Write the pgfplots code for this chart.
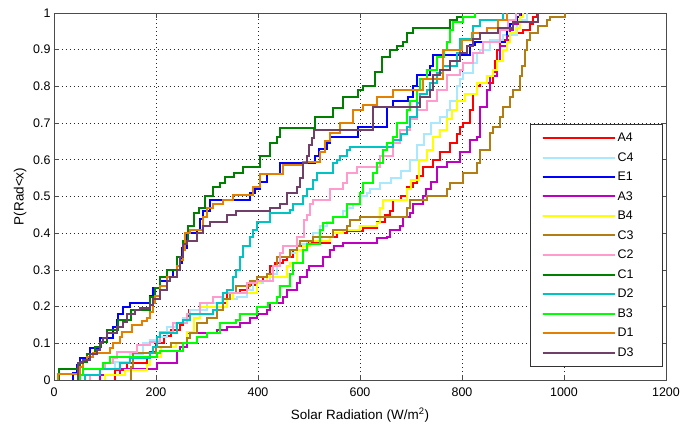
\documentclass[border=0pt]{standalone}
\usepackage{pgfplots}
\pgfplotsset{compat=1.18}
\usepackage{fontspec}
\setmainfont{Liberation Sans}
\definecolor{cA4}{RGB}{255,0,0}
\definecolor{cC4}{RGB}{170,232,255}
\definecolor{cE1}{RGB}{0,0,255}
\definecolor{cA3}{RGB}{192,0,192}
\definecolor{cB4}{RGB}{255,255,0}
\definecolor{cC3}{RGB}{178,126,20}
\definecolor{cC2}{RGB}{255,155,205}
\definecolor{cC1}{RGB}{0,128,0}
\definecolor{cD2}{RGB}{0,196,196}
\definecolor{cB3}{RGB}{0,255,0}
\definecolor{cD1}{RGB}{228,128,0}
\definecolor{cD3}{RGB}{112,64,104}
\begin{document}
\begin{tikzpicture}
\begin{axis}[
  scale only axis, width=612bp, height=367bp,
  xmin=0, xmax=1200, ymin=0, ymax=1,
  xtick={0,200,...,1200},
  ytick={0,0.1,0.2,0.3,0.4,0.5,0.6,0.7,0.8,0.9,1},
  yticklabels={0,0.1,0.2,0.3,0.4,0.5,0.6,0.7,0.8,0.9,1},
  /pgf/number format/1000 sep={},
  /pgf/number format/assume math mode=true,
  tick align=inside, major tick length=5bp,
  grid=major, major grid style={dash pattern=on 1bp off 3bp, black!85, line width=0.6bp},
  axis line style={solid, black!70, line width=0.8pt},
  every tick/.style={solid, black!70, line width=0.8pt},
  tick label style={font=\fontsize{12.5}{14}\selectfont},
  xticklabel style={yshift=-4bp},
  label style={font=\fontsize{13.5}{15}\selectfont},
  xlabel style={yshift=-5bp},
  xlabel={Solar Radiation (W/m\textsuperscript{2})},
  ylabel={P(Rad<x)},
  every axis plot/.append style={const plot, solid, line width=2bp},
  legend style={at={(0.995,0.035)}, anchor=south east, solid, draw=black!80, line width=0.8pt,
    font=\fontsize{12.5}{14}\selectfont, row sep=5.4pt, inner xsep=11bp, inner ysep=7bp},
  legend cell align=left,
  legend image code/.code={\draw[#1, solid, line width=2bp] (0bp,0bp) -- (72bp,0bp);},
]
\addplot[cA4] coordinates {(120,0)(120,0.027)(143,0.046)(182,0.063)(188,0.077)(200,0.1)(215,0.12)(230,0.136)(247,0.15)(253,0.17)(265,0.19)(300,0.2)(331,0.21)(339,0.236)(365,0.245)(380,0.26)(398,0.27)(410,0.28)(423,0.31)(433,0.32)(449,0.327)(457,0.336)(469,0.355)(476,0.364)(496,0.373)(541,0.39)(555,0.4)(574,0.405)(606,0.414)(633,0.43)(650,0.45)(659,0.46)(665,0.49)(680,0.5)(692,0.527)(704,0.536)(712,0.555)(724,0.58)(743,0.6)(757,0.62)(776,0.645)(790,0.67)(796,0.69)(802,0.7)(816,0.736)(822,0.78)(829,0.8)(835,0.81)(861,0.84)(865,0.87)(869,0.9)(875,0.927)(894,0.945)(920,0.955)(933,0.97)(939,0.99)(947,1.0)};
\addlegendentry{\makebox[32bp][l]{A4}}
\addplot[cC4] coordinates {(60,0)(60,0.014)(90,0.03)(120,0.05)(150,0.07)(175,0.1)(188,0.11)(208,0.118)(221,0.145)(240,0.155)(253,0.17)(267,0.19)(300,0.21)(330,0.22)(359,0.227)(378,0.245)(390,0.264)(410,0.27)(423,0.29)(437,0.31)(443,0.336)(463,0.345)(476,0.37)(496,0.38)(508,0.4)(522,0.42)(535,0.43)(547,0.445)(567,0.46)(574,0.47)(586,0.48)(600,0.5)(614,0.51)(620,0.52)(639,0.536)(660,0.55)(680,0.57)(698,0.6)(712,0.64)(725,0.67)(740,0.7)(757,0.717)(770,0.736)(776,0.76)(790,0.8)(796,0.82)(802,0.836)(822,0.865)(829,0.89)(835,0.9)(855,0.927)(880,0.94)(908,0.98)(927,1.0)};
\addlegendentry{C4}
\addplot[cE1] coordinates {(37,0)(37,0.02)(45,0.04)(51,0.06)(71,0.087)(90,0.114)(116,0.145)(124,0.164)(126,0.18)(135,0.2)(149,0.21)(188,0.23)(194,0.25)(208,0.27)(221,0.28)(233,0.3)(247,0.32)(252,0.36)(260,0.4)(280,0.41)(286,0.44)(292,0.46)(306,0.49)(384,0.51)(394,0.52)(404,0.54)(417,0.56)(443,0.59)(512,0.61)(520,0.63)(535,0.646)(541,0.663)(596,0.688)(653,0.745)(665,0.76)(694,0.77)(704,0.8)(712,0.83)(737,0.855)(743,0.886)(816,0.914)(825,0.92)(888,0.955)(894,0.97)(908,0.99)(918,1.0)};
\addlegendentry{E1}
\addplot[cA3] coordinates {(90,0)(90,0.014)(130,0.03)(202,0.045)(241,0.08)(247,0.09)(260,0.127)(320,0.136)(340,0.145)(365,0.155)(384,0.17)(398,0.18)(417,0.19)(423,0.21)(449,0.227)(457,0.245)(476,0.264)(482,0.28)(496,0.3)(500,0.31)(527,0.336)(541,0.355)(550,0.364)(567,0.373)(633,0.387)(653,0.39)(659,0.41)(678,0.42)(684,0.445)(698,0.455)(704,0.48)(724,0.5)(730,0.52)(740,0.54)(751,0.58)(770,0.595)(796,0.62)(816,0.654)(829,0.663)(835,0.745)(849,0.79)(855,0.827)(869,0.87)(875,0.91)(888,0.936)(894,0.955)(900,0.97)(914,1.0)};
\addlegendentry{A3}
\addplot[cB4] coordinates {(100,0)(100,0.014)(140,0.027)(182,0.04)(188,0.063)(210,0.09)(240,0.1)(260,0.13)(275,0.17)(286,0.2)(339,0.22)(351,0.236)(398,0.264)(404,0.27)(417,0.28)(457,0.31)(463,0.32)(476,0.355)(488,0.364)(502,0.38)(541,0.39)(547,0.4)(567,0.41)(600,0.42)(633,0.427)(639,0.47)(645,0.49)(692,0.52)(700,0.545)(715,0.6)(731,0.627)(743,0.663)(757,0.68)(770,0.71)(780,0.736)(790,0.76)(805,0.78)(830,0.81)(850,0.827)(861,0.845)(869,0.87)(880,0.9)(888,0.92)(894,0.945)(905,0.96)(914,0.99)(920,1.0)};
\addlegendentry{B4}
\addplot[cC3] coordinates {(152,0)(152,0.036)(155,0.073)(200,0.09)(230,0.1)(260,0.114)(267,0.127)(280,0.155)(300,0.17)(320,0.19)(331,0.22)(345,0.236)(357,0.255)(384,0.27)(398,0.28)(417,0.29)(429,0.31)(437,0.336)(463,0.355)(476,0.364)(482,0.38)(508,0.39)(547,0.41)(574,0.42)(580,0.436)(600,0.445)(692,0.47)(698,0.49)(731,0.5)(770,0.52)(776,0.536)(802,0.564)(829,0.59)(835,0.627)(855,0.673)(861,0.69)(875,0.717)(880,0.745)(894,0.77)(900,0.79)(914,0.827)(918,0.855)(923,0.9)(927,0.927)(933,0.945)(950,0.965)(967,0.98)(973,0.99)(1002,1.0)};
\addlegendentry{C3}
\addplot[cC2] coordinates {(71,0)(71,0.014)(90,0.03)(100,0.045)(115,0.06)(124,0.075)(163,0.095)(188,0.104)(208,0.13)(233,0.155)(260,0.18)(286,0.21)(312,0.227)(331,0.236)(378,0.264)(398,0.27)(429,0.31)(443,0.345)(449,0.364)(476,0.39)(490,0.436)(496,0.45)(502,0.48)(508,0.49)(541,0.52)(567,0.536)(574,0.564)(594,0.58)(639,0.61)(665,0.645)(678,0.68)(698,0.71)(712,0.736)(731,0.76)(751,0.79)(770,0.83)(796,0.845)(802,0.865)(822,0.89)(841,0.92)(875,0.955)(890,0.98)(905,1.0)};
\addlegendentry{C2}
\addplot[cC1] coordinates {(10,0)(10,0.03)(51,0.05)(65,0.07)(80,0.09)(93,0.104)(104,0.136)(126,0.164)(152,0.19)(188,0.226)(198,0.25)(208,0.28)(221,0.3)(241,0.336)(253,0.38)(262,0.42)(274,0.455)(285,0.47)(296,0.5)(312,0.527)(325,0.536)(335,0.554)(352,0.564)(371,0.58)(404,0.61)(423,0.645)(437,0.663)(443,0.687)(512,0.717)(547,0.74)(567,0.77)(596,0.79)(606,0.8)(629,0.84)(643,0.88)(659,0.9)(672,0.91)(684,0.92)(692,0.945)(704,0.96)(776,0.98)(790,0.99)(825,1.0)};
\addlegendentry{C1}
\addplot[cD2] coordinates {(60,0)(60,0.014)(90,0.03)(129,0.046)(149,0.06)(188,0.073)(194,0.09)(202,0.118)(208,0.127)(241,0.155)(253,0.164)(267,0.18)(312,0.19)(320,0.21)(331,0.236)(339,0.245)(351,0.28)(357,0.3)(365,0.336)(371,0.364)(384,0.39)(390,0.41)(398,0.43)(423,0.455)(463,0.464)(469,0.48)(488,0.5)(496,0.52)(508,0.545)(516,0.564)(547,0.59)(555,0.6)(561,0.61)(574,0.627)(580,0.636)(665,0.654)(680,0.67)(692,0.69)(698,0.717)(712,0.755)(718,0.78)(731,0.79)(737,0.81)(751,0.836)(763,0.855)(790,0.89)(796,0.93)(822,0.964)(835,0.98)(880,1.0)};
\addlegendentry{D2}
\addplot[cB3] coordinates {(51,0)(51,0.014)(57,0.03)(96,0.045)(110,0.063)(202,0.073)(208,0.08)(253,0.1)(280,0.118)(300,0.127)(325,0.155)(357,0.164)(365,0.18)(398,0.2)(420,0.21)(437,0.227)(443,0.255)(463,0.29)(469,0.32)(488,0.355)(496,0.37)(522,0.41)(527,0.427)(547,0.445)(574,0.48)(600,0.51)(606,0.536)(625,0.564)(633,0.59)(645,0.627)(653,0.645)(665,0.663)(672,0.7)(692,0.736)(698,0.76)(712,0.79)(718,0.82)(731,0.845)(751,0.88)(765,0.9)(770,0.92)(776,0.955)(782,0.975)(802,0.99)(825,1.0)};
\addlegendentry{B3}
\addplot[cD1] coordinates {(8,0)(8,0.015)(51,0.036)(57,0.055)(64,0.063)(77,0.073)(110,0.087)(116,0.1)(129,0.118)(133,0.13)(153,0.15)(172,0.16)(182,0.17)(188,0.185)(194,0.21)(198,0.23)(208,0.255)(221,0.28)(241,0.31)(247,0.327)(253,0.355)(257,0.4)(267,0.41)(292,0.445)(300,0.47)(312,0.48)(331,0.49)(351,0.505)(390,0.527)(404,0.56)(449,0.586)(488,0.595)(522,0.62)(531,0.65)(541,0.673)(561,0.7)(586,0.736)(606,0.75)(633,0.77)(665,0.79)(724,0.82)(763,0.9)(800,0.927)(820,0.945)(850,0.96)(870,0.98)(888,1.0)};
\addlegendentry{D1}
\addplot[cD3] coordinates {(47,0)(47,0.046)(57,0.055)(71,0.07)(84,0.082)(90,0.1)(96,0.114)(104,0.127)(124,0.145)(135,0.158)(143,0.18)(159,0.19)(169,0.195)(188,0.205)(194,0.22)(208,0.245)(221,0.27)(227,0.28)(241,0.3)(247,0.335)(253,0.37)(260,0.38)(280,0.4)(292,0.42)(306,0.43)(339,0.45)(357,0.46)(423,0.47)(443,0.48)(457,0.51)(476,0.527)(482,0.55)(488,0.59)(496,0.61)(500,0.64)(505,0.66)(510,0.68)(625,0.745)(718,0.77)(737,0.79)(743,0.83)(757,0.845)(776,0.87)(796,0.89)(810,0.91)(822,0.93)(835,0.945)(870,0.96)(900,0.975)(950,1.0)};
\addlegendentry{D3}
\coordinate (bbsw) at (rel axis cs:-0.0882,-0.1199);
\coordinate (bbne) at (rel axis cs:1.0278,1.0354);
\end{axis}
\pgfresetboundingbox
\path[use as bounding box] (bbsw) rectangle (bbne);
\end{tikzpicture}
\end{document}
